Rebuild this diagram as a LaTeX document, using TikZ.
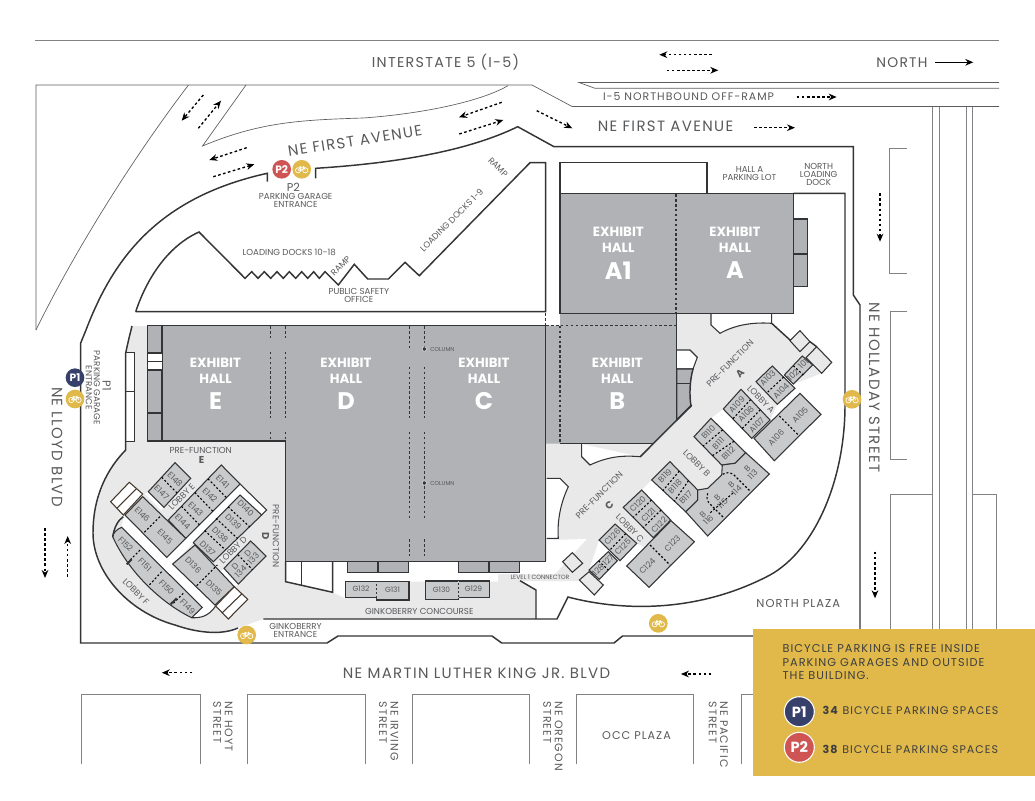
\documentclass[tikz,border=0pt]{standalone}
\usepackage{fontspec}
\usepackage{tikz}
\usetikzlibrary{arrows.meta}
\setmainfont{Poppins}
\newfontfamily\roadfont{Poppins}[LetterSpace=9]
\definecolor{hallgray}{HTML}{B1B2B5}
\definecolor{roomgray}{HTML}{C9CACB}
\definecolor{foyergray}{HTML}{E9E9EA}
\definecolor{wallink}{HTML}{333436}
\definecolor{streetink}{HTML}{808285}
\definecolor{labelink}{HTML}{58595B}
\definecolor{kioskink}{HTML}{44382C}
\definecolor{bikegold}{HTML}{E0B94A}
\definecolor{pblue}{HTML}{37406A}
\definecolor{pred}{HTML}{CF5555}
\tikzset{
	wall/.style = {line width = 1.1pt, draw = wallink},
	street/.style = {line width = 0.7pt, draw = streetink},
	thinroad/.style = {line width = 0.5pt, draw = wallink!80},
	hallfill/.style = {fill = hallgray, draw = wallink, line width = 1pt},
	roomfill/.style = {fill = roomgray, draw = wallink, line width = 0.8pt},
	foyerbox/.style = {fill = foyergray, draw = wallink, line width = 0.8pt},
	whitebox/.style = {fill = white, draw = wallink, line width = 0.8pt},
	kioskbox/.style = {fill = white, draw = kioskink, line width = 0.8pt},
	partition/.style = {draw = wallink, line width = 0.9pt, dash pattern = on 2pt off 1.7pt},
	roomsplit/.style = {draw = black, line width = 0.8pt, dash pattern = on 1.5pt off 1.5pt},
	flow/.style = {draw = black, line width = 1pt, dash pattern = on 2pt off 1.8pt, -{Stealth[length = 6pt, width = 5pt]}},
	roadname/.style = {font = \roadfont\fontsize{11.2}{13}\selectfont, text = labelink, inner sep = 0},
	plainroad/.style = {roadname, font = \roadfont\fontsize{8.5}{10}\selectfont},
	tinyname/.style = {font = \fontsize{6.5}{6}\selectfont, text = labelink, inner sep = 0, align = center},
	roomname/.style = {font = \fontsize{6.2}{5.8}\selectfont, text = labelink, inner sep = 0, align = center},
	keyname/.style = {font = \roadfont\fontsize{8.3}{10}\selectfont, text = labelink!70!black, inner sep = 0},
	hallword/.style = {font = \bfseries\fontsize{10}{11}\selectfont, text = white, inner sep = 0},
	hallcode/.style = {font = \bfseries\fontsize{18}{20}\selectfont, text = white, inner sep = 0},
	foyerletter/.style = {tinyname, font = \bfseries\fontsize{7.5}{8}\selectfont},
	bikespot/.style = {circle, fill = bikegold, minimum size = 14pt, inner sep = 0},
	pspot/.style = {circle, text = white, font = \bfseries\fontsize{8}{8}\selectfont, minimum size = 14pt, inner sep = 0},
	keyspot/.style = {pspot, draw = white, line width = 0.8pt, minimum size = 22.5pt, font = \bfseries\fontsize{11}{11}\selectfont},
	bike/.pic = {
		\draw[white, line width = 0.5pt] (-3.6, 1) circle[radius = 2.6] (3.6, 1) circle[radius = 2.6];
		\draw[white, line width = 0.5pt] (-3.6, 1) -- (-1.5, -2) -- (2.4, -2) -- (0, 1) -- (-1.5, -2) (2.4, -2) -- (3.6, 1) (-3.6, 1) -- (0, 1) (-2.4, -2.6) -- (-0.6, -2.6) (1.6, -3.2) -- (2.4, -2);
	}
}
\begin{document}
\begin{tikzpicture}[x = 0.75pt, y = -0.75pt]
	\useasboundingbox (0, 0) rectangle (1035, 800);
	\fill[white] (0, 0) rectangle (1035, 800);

	% freeway and streets
	\draw[street] (35, 40.5) -- (999, 40.5);
	\draw[thinroad] (36, 330) -- (36, 85) -- (532, 85) -- (572, 106.5) -- (999, 106.5);
	\draw[thinroad] (999, 82.5) -- (579, 82.5) -- (595, 88.3) -- (999, 88.3);
	\draw[thinroad] (188.5, 85) .. controls (135, 155) and (75, 250) .. (36, 330);
	\draw[thinroad] (246, 85) -- (202.5, 146) .. controls (260, 122) and (300, 120) .. (363, 118) .. controls (420, 114) and (480, 102) .. (508, 85.7);
	\foreach \blockx in {932.3, 939, 966, 972.3}
		\draw[street] (\blockx, 106.5) -- (\blockx, 630);
	\draw[street] (906.5, 148.3) -- (889.5, 148.3) -- (889.5, 273.7) -- (906.5, 273.7);
	\draw[street] (907.3, 311) -- (890.7, 311) -- (890.7, 459) -- (907.3, 459);
	\draw[street] (890.7, 630) -- (890.7, 494) -- (932.3, 494);
	\draw[street] (972.3, 494) -- (996, 494) -- (996, 630);
	\foreach \lefte/\righte in {81.2/200, 247/365, 412/529, 576/693.6}
		\draw[street] (\lefte, 764) -- (\lefte, 694) -- (\righte, 694) -- (\righte, 764);
	\draw[street] (741, 764) -- (741, 694) -- (753, 694);

	% foyers
	\fill[foyergray] (132, 326) -- (676.7, 326) -- (676.7, 313) -- (771.7, 313) -- (771.7, 323.3) -- (793.3, 343) -- (810, 342) -- (816.7, 346.7) -- (821.7, 373.3) -- (793.3, 384) -- (784.3, 375) -- (772.3, 366) -- (756, 381.7) -- (777.3, 404.3) -- (770, 420) -- (751.7, 438.3) -- (723.3, 409) -- (711, 418.3) -- (694, 436.7) -- (721.7, 465) -- (722, 475) -- (707.7, 488.3) -- (697.7, 490) -- (670, 461.7) -- (651.7, 480) -- (641.7, 490) -- (623.3, 507.3) -- (653.3, 537.7) -- (646, 548) -- (636.7, 543.3) -- (615, 524) -- (599, 540) -- (589, 570) -- (579.3, 581) -- (520, 581) -- (536, 590) -- (536, 619) -- (263.3, 619) -- (238, 628) .. controls (220, 636) and (195, 632) .. (175, 625) .. controls (128, 612) and (93, 572) .. (93, 533) .. controls (93, 495) and (108, 468) .. (125.7, 450) -- (125.7, 353) .. controls (128, 342) and (130, 334) .. (132, 326) -- cycle;
	\fill[white] (333, 561) -- (547, 561) -- (547, 540) -- (586.7, 539) -- (555, 574) -- (498, 574) -- (498, 581.7) -- (410, 581.7) -- (345, 598) -- (332.7, 592.3) -- cycle;
	\fill[white] (285.7, 561.7) -- (332.7, 561.7) -- (332.7, 592.3) -- (285.7, 581.7) -- cycle;

	% side rooms
	\draw[whitebox] (125.7, 352.3) rectangle (134.3, 391.7);
	\draw[whitebox] (125.7, 391.7) rectangle (134.3, 441.7);
	\draw[wall] (285.7, 561.7) -- (285.7, 581.7) -- (332.7, 592.3) -- (332.7, 561.7);
	\draw[wall] (301.7, 561.7) -- (301.7, 585.7);
	\draw[whitebox] (581.7, 444) -- (581.7, 456.7) -- (590, 465) .. controls (607, 457) and (622, 455) .. (640, 456.7);
	\draw[whitebox] (546.7, 478.3) -- (560, 478.3) -- (568.3, 486.7) .. controls (561, 502) and (557, 520) .. (558.3, 538.3) -- (546.7, 538.3);
	\draw[whitebox] (711, 313.3) -- (711, 325) -- (720, 333.3) .. controls (735, 325) and (752, 322) .. (771.7, 323.3) -- (771.7, 313.3);
	\draw[whitebox] (676.7, 350) -- (690, 350) -- (697.3, 357.3) -- (693, 369) -- (676.7, 369);
	\draw[wall, fill = hallgray] (676.7, 369) -- (693, 369) .. controls (690, 380) and (689, 394) .. (691, 406) -- (676.7, 420) -- cycle;
	\draw[wall] (676.7, 383.3) -- (689.7, 383.3);

	% exhibit halls
	\draw[hallfill] (147.3, 325.7) -- (545.7, 325.7) -- (545.7, 561.7) -- (285.7, 561.7) -- (285.7, 441) -- (147.3, 441) -- cycle;
	\draw[hallfill, draw = none] (560, 313.3) -- (676.7, 313.3) -- (676.7, 420) -- (653.3, 443.5) -- (546, 443.5) -- (546, 325.7) -- (560, 325.7) -- cycle;
	\draw[hallfill] (560, 193.3) rectangle (793.3, 313.3);
	\draw[hallfill] (793.3, 219) rectangle (807.7, 254);
	\draw[hallfill] (793.3, 254) rectangle (807.7, 286.7);
	\draw[hallfill] (347.3, 561.7) rectangle (378, 572.7);
	\draw[hallfill] (378, 561.7) rectangle (408.3, 572.7);
	\draw[hallfill] (458.3, 561.7) rectangle (489, 572.7);
	\draw[hallfill] (489, 561.7) rectangle (519.3, 572.7);
	\draw[wall, line width = 1.3pt] (162.3, 325.7) -- (162.3, 441);
	\fill[white] (148, 353) rectangle (161.5, 361.7);
	\fill[white] (148, 361.7) rectangle (161.5, 370);
	\foreach \stripy in {353, 361.7, 370, 413}
		\draw[wall, line width = 0.8pt] (147.3, \stripy) -- (162.3, \stripy);
	\foreach \gapx in {270.7, 285.3} {
		\draw[partition] (\gapx, 326) -- (\gapx, 338.3);
		\draw[partition] (\gapx, 351.7) -- (\gapx, 418.3);
		\draw[partition] (\gapx, 431.7) -- (\gapx, 441);
	}
	\foreach \gapx in {409.3, 424.3} {
		\draw[partition] (\gapx, 326) -- (\gapx, 349.3);
		\draw[partition] (\gapx, 366.7) -- (\gapx, 418.3);
		\draw[partition] (\gapx, 431.7) -- (\gapx, 520);
		\draw[partition] (\gapx, 539) -- (\gapx, 558);
	}
	\draw[partition] (676, 194) -- (676, 313.3);
	\draw[partition] (560, 313.3) -- (676, 313.3);
	\draw[partition] (546, 325.7) -- (676, 325.7);
	\draw[partition] (560, 325.7) -- (560, 443);
	\draw[partition] (545.7, 313.3) -- (545.7, 443);
	\draw[wall] (560, 443.5) -- (653.3, 443.5);
	\draw[wall] (676.7, 313.3) -- (676.7, 420);
	\draw[wall] (640, 457) -- (691.7, 405);
	\draw[wall] (771.7, 323.3) -- (793.3, 343);
	\draw[wall] (810, 341.7) -- (816.7, 346.7);
	\fill[wallink, draw = foyergray, line width = 0.4pt] (424.3, 349) circle[radius = 2.2];
	\fill[wallink, draw = foyergray, line width = 0.4pt] (424.3, 483) circle[radius = 2.2];

	% meeting rooms
	\fill[white] (145, 494) -- (148.3, 491.7) -- (164, 507.3) -- (160.7, 510) -- cycle;
	\fill[white] (224, 568.3) -- (238.3, 584) -- (234.3, 586.7) -- (220, 572.3) -- cycle;
	\fill[white] (240, 484) -- (266.7, 510) -- (261.7, 515) -- (240, 495) -- (193.3, 542.7) -- (172.7, 564) -- (166.7, 557.3) -- cycle;
	\fill[white] (123.3, 516.7) -- (125, 515) -- (166.7, 557.3) -- (172.7, 564) -- (215.7, 606) .. controls (208, 617) and (200, 618) .. (191.7, 617.7) -- (202.3, 607.3) -- (121.7, 527.3) -- cycle;
	\foreach \corners in {
		{(175, 462.7) -- (190.7, 478.3) -- (164, 507.3) -- (148.3, 491.7)},
		{(221.3, 465) -- (240, 484) -- (185.7, 538.3) -- (168.3, 520)},
		{(240, 495) -- (261.7, 515) -- (213.3, 561.7) -- (193.3, 542.7)},
		{(250.7, 541) -- (266, 556) -- (238.3, 584) -- (224, 568.3)},
		{(195, 545) -- (234.3, 586.7) -- (215, 605) -- (172.7, 564)},
		{(142.7, 496.7) -- (185.7, 538.3) -- (166.7, 557.3) -- (125, 515)},
		{(772.3, 366) -- (795, 388.3) -- (777.3, 404.3) -- (756, 381.7)},
		{(784.3, 375) -- (802.3, 356) -- (812.7, 365) -- (793.3, 384)},
		{(800, 393.3) -- (821, 414.3) -- (774.3, 460.7) -- (754, 438.3)},
		{(741, 389.3) -- (770, 420) -- (751.7, 438.3) -- (723.3, 409)},
		{(711, 418.3) -- (745.7, 452.7) -- (735, 463.3) -- (721.7, 465) -- (694, 436.7)},
		{(745.7, 452.7) -- (769.3, 474) -- (707.7, 536) -- (685.7, 511.7) -- (697.7, 500) -- (697.7, 490) -- (707.7, 488.3) -- (721.7, 475) -- (722.3, 465) -- (735, 463.3)},
		{(670, 461.7) -- (697.7, 490) -- (697.7, 500) -- (685.7, 511.7) -- (651.7, 480)},
		{(641.7, 490) -- (670.7, 520) -- (653.3, 537.7) -- (623.3, 507.3)},
		{(671, 520.7) -- (694.3, 541.7) -- (649, 587.3) -- (626.7, 566)},
		{(615, 524) -- (636.7, 543.3) -- (620, 560.7) -- (599, 540)},
		{(608.3, 551.7) -- (617.3, 560.7) -- (599.3, 579.3) -- (589, 570)}
	}
		\draw[roomfill] \corners -- cycle;
	\draw[roomfill] (121.7, 527.3) -- (202.3, 607.3) -- (191.7, 617.7) .. controls (165, 605) and (130, 575) .. (112.7, 536.7) .. controls (113, 533) and (117, 529) .. (121.7, 527.3) -- cycle;
	\draw[wall] (123.3, 516.7) .. controls (118, 520) and (114, 528) .. (112.7, 536.7);
	\draw[wall, line width = 0.8pt] (191.7, 617.7) .. controls (200, 618) and (208, 617) .. (215.7, 606);
	\draw[wall, line width = 0.8pt] (240, 484) -- (266.7, 510) -- (261.7, 515);
	\foreach \ax/\ay/\bx/\by in {
		161.7/477.3/177.3/493.3, 208/478.8/226.4/497.6, 194.8/492.5/212.9/511.2, 181.5/506.3/199.3/524.7,
		228/506.8/249.6/526.7, 216/518.4/237.5/538.4, 204.7/530.5/225.4/550,
		237.9/554.7/252.4/569.7, 196.7/585.7/217.3/565, 160/516.7/143.3/533.3,
		140/550/128.3/561.7, 161.7/571.7/149.3/585, 183.3/593.3/171.7/605,
		783.7/377/766.7/393, 793.3/365.7/803.3/375, 779.3/416/798.3/435,
		750.7/399.5/732.8/418.8, 760.3/409.8/742.2/428.5,
		722.6/429.8/703.2/446.1, 734.1/441.2/712.5/455.6,
		679.2/471.1/663/490.6, 688.5/480.6/674.4/501.1,
		651.4/500/633.3/517.4, 661/510/643.3/527.6,
		650/545/670/565, 625.8/533.6/609.5/550.3, 598.6/560.8/608.3/570,
		733/493/710/513}
		\draw[roomsplit] (\ax, \ay) -- (\bx, \by);
	\draw[roomsplit] (722.7, 474.3) .. controls (727, 472) and (730, 472) .. (734, 475) -- (750.7, 491.7);
	\draw[roomsplit] (707.7, 493.3) .. controls (706, 499) and (707, 501) .. (711, 505) -- (723.3, 517.3);
	\draw[wall, line width = 1.4pt] (131.7, 559.3) -- (126.7, 564.3);
	\draw[wall, line width = 1.4pt] (176.7, 598.3) -- (170.7, 604);
	\draw[kioskbox] (129.3, 482.3) -- (142.7, 494) -- (123.3, 515) -- (110.7, 501.7) -- cycle;
	\draw[kioskbox] (136.7, 488.3) -- (116.7, 508.3);
	\draw[kioskbox] (234.3, 586.7) -- (247.7, 599.3) -- (228.3, 619) -- (215.7, 606) -- cycle;
	\draw[kioskbox] (241.7, 594) -- (222.3, 612.7);
	\foreach \corners in {
		{(800, 330.7) -- (810, 341.7) -- (800, 351.7) -- (790, 340.7)},
		{(816.7, 346.7) -- (831.7, 362.3) -- (821.7, 373.3) -- (806, 357.7)},
		{(572.3, 552.7) -- (582.7, 563.3) -- (572.3, 572.3) -- (562.7, 561.7)},
		{(589, 571.7) -- (603.3, 585) -- (594.3, 595) -- (579.3, 580)}
	}
		\draw[foyerbox] \corners -- cycle;
	\draw[roomfill] (345.7, 581.7) rectangle (376.7, 597.7);
	\draw[roomfill] (376.7, 581.7) rectangle (409, 600);
	\draw[roomfill] (425.7, 581) rectangle (458.3, 599.3);
	\draw[roomfill] (458.3, 581) rectangle (489.3, 597.7);
	\draw[roomsplit, draw = roomgray] (376.7, 581.7) -- (376.7, 597.7);
	\draw[roomsplit, draw = roomgray] (458.3, 581) -- (458.3, 597.7);

	% building edge
	\draw[wall] (132, 326) .. controls (130, 334) and (128, 342) .. (125.7, 353) -- (125.7, 450) .. controls (108, 468) and (93, 495) .. (93, 533) .. controls (93, 572) and (128, 612) .. (175, 625) .. controls (195, 632) and (220, 636) .. (238, 628);
	\draw[wall] (263.3, 619) -- (557, 619) -- (568, 597) .. controls (625, 612) and (700, 612) .. (770, 575) .. controls (815, 550) and (845, 480) .. (845, 405) -- (845, 193.3) -- (793.3, 193.3);
	\draw[wall] (536, 619) -- (536, 590) -- (520, 580.7);
	\draw[wall] (86, 330) .. controls (112, 262) and (155, 198) .. (267.3, 173.3) -- (267.3, 181.7);
	\draw[wall] (86, 330) -- (80.7, 343) -- (80.7, 643) -- (327, 643) -- (338, 636) -- (492, 636) -- (501.7, 643) -- (614, 643) -- (622.5, 636) -- (753, 636);
	\draw[wall] (315.7, 178.3) -- (315.7, 168.3) .. controls (400, 163) and (470, 150) .. (517.7, 126.7) -- (554, 146.7) -- (853.3, 146.7) -- (853.3, 295) -- (860, 305) -- (860, 629.5);
	\draw[wall] (135.7, 311.7) -- (545.7, 311.7) -- (545.7, 162.7) -- (530, 162.7) -- (419.3, 275.7) -- (405, 262.3) -- (388.3, 279) -- (367.7, 279) -- (354.3, 264.3) -- (338.3, 285) -- (325, 271.7) -- (319.3, 278.3) -- (313.7, 271.7) -- (307.7, 278.3) -- (301.7, 271.7) -- (295.7, 278.3) -- (289.3, 271.7) -- (283.3, 278.3) -- (277, 271.7) -- (270.7, 278.3) -- (264.3, 271.7) -- (258, 278.3) -- (251.7, 271.7) -- (245, 278.3) -- (199, 232) .. controls (170, 245) and (148, 275) .. (135.7, 311.7);
	\draw[wall] (560, 193.3) -- (560, 162.7) -- (707, 162.7) -- (707, 193.3);

	% traffic arrows
	\foreach \fromx/\fromy/\tox/\toy in {
		711.7/54.7/659.3/54.7, 666.7/70.3/718.3/70.3, 796.7/97/836.7/97, 754/127.7/795/127.7,
		536.7/110.7/572.3/128.3, 203.3/95/181.7/120.7, 198.3/128.3/221/100.7,
		501.7/102.3/459/117.3, 459.3/134/503.3/120, 246.7/147.7/209.3/160, 213.3/176.7/254.3/164.3,
		880/193.3/880/241.7, 875/551.7/875/598.3, 67.7/576.7/67.7/536, 45/528/45/578,
		192.3/672.7/161.8/672.7, 711.3/674/680.9/674}
		\draw[flow] (\fromx, \fromy) -- (\tox, \toy);
	\draw[line width = 1pt, -{Stealth[length = 6pt, width = 5pt]}] (935, 62.3) -- (973.3, 62.3);

	% street names
	\node[roadname, font = \roadfont\fontsize{10.7}{13}\selectfont] (freeway) at (445.5, 62.5) {INTERSTATE 5 (I-5)};
	\node[roadname, font = \roadfont\fontsize{10.4}{13}\selectfont] (northword) at (902, 62.5) {NORTH};
	\node[plainroad, font = \roadfont\fontsize{8.2}{10}\selectfont] (offramp) at (688.5, 97) {I-5 NORTHBOUND OFF-RAMP};
	\node[roadname] (firstave) at (665.5, 126.5) {NE FIRST AVENUE};
	\node[roadname, rotate = 9] (firstavewest) at (355, 141) {NE FIRST AVENUE};
	\node[roadname, rotate = -90] (lloyd) at (57, 447) {NE LLOYD BLVD};
	\node[roadname, rotate = -90] (holladay) at (874.3, 387.5) {NE HOLLADAY STREET};
	\node[roadname] (mlk) at (476.5, 673) {NE MARTIN LUTHER KING JR. BLVD};
	\node[plainroad, font = \roadfont\fontsize{8.6}{10}\selectfont] (northplaza) at (798.3, 603.3) {NORTH PLAZA};
	\node[plainroad, font = \roadfont\fontsize{8.4}{10}\selectfont] (occplaza) at (636.5, 735.7) {OCC PLAZA};
	\foreach \crossx/\crossname in {223/NE HOYT, 388.7/NE IRVING, 553/NE OREGON, 718.3/NE PACIFIC}
		\node[plainroad, font = \roadfont\fontsize{8.2}{8.6}\selectfont, rotate = -90, anchor = west, align = left] (cross\crossx) at (\crossx, 701.7) {\crossname\\STREET};

	% place names
	\node[tinyname, font = \fontsize{8.5}{9}\selectfont] (ptwoname) at (293.3, 187.3) {P2};
	\node[tinyname] (ptwogate) at (295.7, 200) {PARKING GARAGE\\ENTRANCE};
	\node[tinyname, rotate = -90] (ponegate) at (92.8, 387.7) {PARKING GARAGE\\ENTRANCE};
	\node[tinyname, font = \fontsize{8.5}{9}\selectfont, rotate = -90] (ponename) at (106.7, 386) {P1};
	\node[tinyname, rotate = -45] (rampeast) at (498, 167.3) {RAMP};
	\node[tinyname, rotate = 45] (docksone) at (451.7, 220) {LOADING DOCKS 1-9};
	\node[tinyname] (docksten) at (289.3, 252.7) {LOADING DOCKS 10-18};
	\node[tinyname, rotate = 45] (rampwest) at (340.7, 265.7) {RAMP};
	\node[tinyname] (safety) at (358.8, 295.5) {PUBLIC SAFETY\\OFFICE};
	\node[tinyname] (halllot) at (749.5, 173.7) {HALL A\\PARKING LOT};
	\node[tinyname] (northdock) at (818.7, 174) {NORTH\\LOADING\\DOCK};
	\node[tinyname] (ginkogate) at (295.5, 630.3) {GINKOBERRY\\ENTRANCE};
	\node[tinyname] (concourse) at (419.3, 611.3) {GINKOBERRY CONCOURSE};
	\node[tinyname, font = \fontsize{4.6}{5}\selectfont] (connector) at (540, 577.3) {LEVEL 1 CONNECTOR};
	\node[tinyname, font = \fontsize{4.3}{5}\selectfont, anchor = west] (columnone) at (430, 349) {COLUMN};
	\node[tinyname, font = \fontsize{4.3}{5}\selectfont, anchor = west] (columntwo) at (430, 483) {COLUMN};
	\node[tinyname] (foyere) at (200.7, 450) {PRE-FUNCTION};
	\node[foyerletter] (foyereletter) at (201.7, 460) {E};
	\node[tinyname, rotate = -90] (foyerd) at (276, 536) {PRE-FUNCTION};
	\node[foyerletter, rotate = -90] (foyerdletter) at (265.7, 536) {D};
	\node[tinyname, rotate = 45] (foyerc) at (599.3, 495) {PRE-FUNCTION};
	\node[foyerletter, rotate = 45] (foyercletter) at (609.3, 505) {C};
	\node[tinyname, rotate = 45] (foyera) at (730, 363.3) {PRE-FUNCTION};
	\node[foyerletter, rotate = 45] (foyeraletter) at (740, 373.3) {A};
	\node[tinyname, rotate = 45] (lobbye) at (181.7, 496.7) {LOBBY E};
	\node[tinyname, rotate = 45] (lobbyd) at (233.3, 550) {LOBBY D};
	\node[tinyname, rotate = -45] (lobbyf) at (136, 591.7) {LOBBY F};
	\node[tinyname, rotate = -45] (lobbya) at (761, 399.3) {LOBBY A};
	\node[tinyname, rotate = -45] (lobbyb) at (696.7, 463.3) {LOBBY B};
	\node[tinyname, rotate = -45] (lobbyc) at (630, 528.3) {LOBBY C};

	% hall names
	\foreach \hallx/\hally/\hallname in {618.3/232/A1, 735/232/A, 617.3/363/B, 484/363/C, 346/363/D, 215.5/363/E} {
		\node[hallword] (word\hallname) at (\hallx, \hally) {EXHIBIT};
		\node[hallword] (hall\hallname) at (\hallx, \hally + 15.5) {HALL};
		\node[hallcode] (code\hallname) at (\hallx, \hally + 38.5) {\hallname};
	}

	% room numbers
	\foreach \roomx/\roomy/\roomno in {
		175/479.3/E148, 161.7/492.7/E147, 222.7/481.7/E141, 210/495/E142, 195.7/509/E143, 182.7/521.7/E144,
		245.7/508.3/D140, 233.3/521.7/D139, 220/535/D138, 207.7/548.3/D137, 193.3/565/D136, 214/587.7/D135,
		142.3/514.3/E146, 165/536.7/E145, 125.7/544/F152, 145/565/F151, 166.7/587.3/F150, 187.7/606.7/F149}
		\node[roomname, rotate = -45] (room\roomno) at (\roomx, \roomy) {\roomno};
	\node[roomname, rotate = 45] (roomDone) at (250.7, 556) {D\\133};
	\node[roomname, rotate = 45] (roomDtwo) at (238, 569) {D\\134};
	\foreach \roomx/\roomy/\roomno in {
		767.7/378/A103, 781/391/A104, 793/375/102, 803.3/364/101, 800/415/A105, 776/437.3/A106,
		736.7/404.3/A109, 746/414/A108, 756.7/425/A107, 708.3/432.3/B110, 718.3/443.3/B111, 728.3/453.3/B112,
		665/475.7/B119, 675/486.7/B118, 685.7/497.3/B117, 637.7/504/C120, 648.3/515/C121, 659/525/C122,
		672.3/543.3/C123, 647.3/566/C124, 612.3/536.7/C126, 622.7/546.7/C125, 608.3/560/127, 598.3/570/128}
		\node[roomname, rotate = 45] (room\roomno) at (\roomx, \roomy) {\roomno};
	\foreach \roomx/\roomy/\roomno in {750/471.7/113, 734/487.7/114, 720/500.7/115, 705.7/517.3/116}
		\node[roomname, rotate = 45] (room\roomno) at (\roomx, \roomy) {B\\\roomno};
	\foreach \roomx/\roomy/\roomno in {361/589/G132, 392.5/590/G131, 441.5/590/G130, 473.5/589/G129}
		\node[roomname, font = \fontsize{5.6}{6}\selectfont] (room\roomno) at (\roomx, \roomy) {\roomno};

	% bicycle parking marks
	\node[pspot, fill = pred] (ptwo) at (281.7, 169.3) {P2};
	\node[pspot, fill = pblue] (pone) at (75, 377.7) {P1};
	\foreach \bikex/\bikey/\bikename in {301.7/169.3/bikeptwo, 75/399/bikepone, 852/399.3/bikeeast, 246.7/635/bikeginko, 658.3/623.3/bikeplaza} {
		\node[bikespot] (\bikename) at (\bikex, \bikey) {};
		\pic at (\bikename) {bike};
	}

	% key
	\fill[bikegold] (753, 629.3) rectangle (1035, 776);
	\node[keyname, font = \roadfont\fontsize{8.5}{10}\selectfont, anchor = north west, align = left] (keytext) at (782.3, 644.5) {BICYCLE PARKING IS FREE INSIDE\\PARKING GARAGES AND OUTSIDE\\THE BUILDING.};
	\node[keyspot, fill = pblue] (keyone) at (799.3, 711.7) {P1};
	\node[keyspot, fill = pred] (keytwo) at (799.3, 747.3) {P2};
	\node[keyname, anchor = west] (keyonetext) at (822.3, 710) {\textbf{34} BICYCLE PARKING SPACES};
	\node[keyname, anchor = west] (keytwotext) at (822.3, 749) {\textbf{38} BICYCLE PARKING SPACES};
\end{tikzpicture}
\end{document}
